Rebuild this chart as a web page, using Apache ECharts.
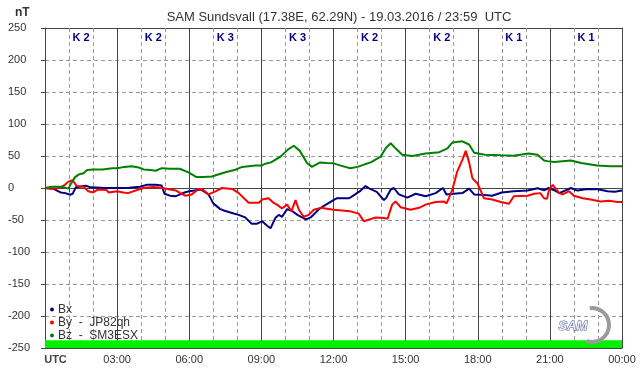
<!DOCTYPE html>
<html><head><meta charset="utf-8">
<script src="https://cdn.jsdelivr.net/npm/echarts@6/dist/echarts.min.js"></script>
<style>html,body{margin:0;padding:0;background:#fff}#c{width:642px;height:376px}</style>
</head><body><div id="c"></div>
<script>
// K index per 3-hour interval
const kIndex = ['K 2','K 2','K 3','K 3','K 2','K 2','K 1','K 1'];
// hour tick labels (every 3 h)
const hourLabels = {0:'UTC',3:'03:00',6:'06:00',9:'09:00',12:'12:00',15:'15:00',18:'18:00',21:'21:00',24:'00:00'};
// series names
const names = ['Bx', 'By  -  JP82qh', 'Bz  -  SM3ESX'];
// [hour UTC, nT]
const bx = [[0,0],[0.35,-1],[0.5,-4],[0.65,-7],[0.85,-8],[1.04,-10.5],[1.15,-9],[1.28,1],[1.7,3.5],[1.9,1],[2.5,0],[3.0,0],[3.5,0.5],[3.95,2],[4.25,5],[4.6,5],[4.85,4],[4.97,-9],[5.2,-12],[5.42,-13],[5.62,-10],[5.8,-7],[6.0,-5],[6.5,-2.5],[6.8,-10],[7.0,-24],[7.29,-33],[7.5,-36],[7.78,-39],[8.05,-42],[8.33,-46],[8.6,-56],[8.8,-56],[9.03,-52],[9.24,-59],[9.38,-63],[9.58,-47],[9.72,-42],[9.86,-45],[10.07,-33],[10.28,-36],[10.5,-42],[10.85,-49],[11.05,-46],[11.4,-33],[11.6,-28],[12.0,-19],[12.15,-16],[12.65,-16],[12.9,-10],[13.1,-5],[13.33,3],[13.5,-1],[13.8,-6],[14.1,-19],[14.2,-15],[14.38,-2.5],[14.51,0],[14.72,-10],[15.07,-15],[15.42,-9],[15.83,-13],[16.25,-8],[16.55,0],[16.7,-10],[17.0,-9],[17.36,-8],[17.64,-1],[17.85,-10],[18.3,-11],[18.6,-12],[19.0,-7],[19.5,-5],[20.07,-4],[20.49,-0.5],[20.76,-3.5],[20.95,0],[21.18,-3.5],[21.39,-8],[21.88,0],[22.15,-4],[22.57,-1.5],[23.0,-2],[23.4,-5],[23.7,-6],[24,-4]];
const by = [[0,0],[0.3,-1],[0.6,0],[0.83,5],[0.97,10],[1.15,12],[1.32,3],[1.6,2],[1.8,-5],[2.0,-7],[2.2,-2.5],[2.55,-3],[2.65,-7],[3.0,-5],[3.25,-7],[3.45,-8],[3.8,-3.5],[4.1,0],[4.5,1.5],[4.9,0],[5.2,-2.5],[5.45,-4],[5.63,-8],[5.83,-12],[6.1,-10],[6.39,-1.5],[6.55,-2],[6.8,-10],[7.05,-6],[7.36,0],[7.78,-1.5],[8.06,-8],[8.33,-18],[8.47,-23],[8.9,-23],[9.03,-18],[9.3,-16],[9.5,-23],[9.65,-26],[9.86,-32],[10.07,-26],[10.25,-36],[10.42,-19],[10.56,-34],[10.76,-45],[10.97,-42],[11.18,-34],[11.46,-31],[12.0,-34],[12.7,-36.5],[13.05,-40],[13.26,-52],[13.5,-49],[13.75,-46],[14.1,-47],[14.25,-48],[14.44,-26],[14.58,-21],[14.79,-30],[15.2,-34],[15.56,-31],[15.83,-26],[16.25,-22],[16.6,-21],[16.7,-24],[16.8,-16],[16.94,-3],[17.15,26],[17.36,44],[17.5,58],[17.64,40],[17.78,15],[17.99,7],[18.13,-5],[18.26,-16],[18.6,-18],[18.96,-22],[19.3,-24.5],[19.5,-13],[20.07,-12],[20.35,-9],[20.6,-8],[20.76,-16],[20.88,-17],[20.97,-2.5],[21.12,5],[21.39,-8],[21.53,-10],[21.8,-5],[22.0,-12],[22.36,-16],[22.7,-18],[23.1,-21],[23.45,-20],[23.82,-22],[24,-22]];
const bz = [[0,0],[0.3,2],[0.7,2],[0.97,-1],[1.1,8],[1.25,17],[1.4,21],[1.6,23],[1.75,28],[2.0,29],[2.4,29],[2.8,31],[3.0,31],[3.3,33],[3.6,34],[3.9,32],[4.1,29],[4.4,28],[4.6,27],[4.86,31],[5.2,30],[5.6,30],[5.97,24.5],[6.3,17],[6.6,17],[6.94,18],[7.5,24.5],[7.92,28.5],[8.2,33],[8.75,35],[9.0,35],[9.17,38],[9.4,40],[9.8,49],[10.1,60],[10.35,66],[10.6,58],[10.9,39],[11.1,33],[11.45,40],[11.7,39],[12.0,38.5],[12.3,35],[12.7,31],[13.0,33],[13.3,37],[13.55,40],[13.96,49],[14.17,62],[14.38,70],[14.58,62],[14.86,52],[15.28,50],[15.83,54],[16.4,56],[16.74,62],[16.94,71],[17.36,73],[17.64,68],[17.85,55],[18.3,52],[18.96,51],[19.5,50.5],[20.1,54],[20.49,52],[20.76,43],[20.9,42],[21.18,40.5],[21.875,43],[22.3,39],[22.96,35],[23.5,34],[24,34]];

const FONT = '"Liberation Sans", Arial, sans-serif';
const chart = echarts.init(document.getElementById('c'), null, {renderer:'canvas'});
function mk(name, data, color, extra){
  return Object.assign({name, type:'line', data, showSymbol:false, symbol:'circle', symbolSize:4,
    lineStyle:{color, width:2}, itemStyle:{color}, animation:false, z:3}, extra||{});
}
chart.setOption({
  animation:false,
  backgroundColor:'#fff',
  title:{text:'SAM Sundsvall (17.38E, 62.29N) - 19.03.2016 / 23:59  UTC', left:334, textAlign:'center', top:6,
    textStyle:{fontFamily:FONT, fontSize:13, fontWeight:'normal', color:'#333'}},
  graphic:[
    {type:'text', left:15, top:7, style:{text:'nT', font:'bold 12px '+FONT, fill:'#333'}},
    {type:'arc', shape:{cx:592, cy:325, r:17, startAngle:-1.7, endAngle:1.9}, style:{stroke:'#9a9a9a', lineWidth:4, fill:null}, z:10},
    {type:'text', left:558, top:319, style:{text:'SAM', font:'italic bold 13px '+FONT, fill:'#e8ecf4', stroke:'#4a5a8a', lineWidth:1}, z:11}
  ],
  legend:{orient:'vertical', left:45, top:298, icon:'circle', itemWidth:4, itemHeight:4, itemGap:0,
    textStyle:{fontFamily:FONT, fontSize:12, color:'#333', lineHeight:13, padding:[0,0,0,-1]},
    data:names},
  grid:{left:45, right:20, top:28, bottom:28, show:false},
  xAxis:[
    {type:'value', min:0, max:24, interval:1, position:'bottom',
      axisLine:{show:true, lineStyle:{color:'#444', width:1}},
      axisTick:{show:true, length:4, lineStyle:{color:'#444'}},
      axisLabel:{margin:6, fontFamily:FONT, fontSize:11, color:'#333',
        formatter:v=>{ if(v===0) return '{u|UTC}'; return hourLabels[v]||''; },
        rich:{u:{fontFamily:FONT, fontSize:11, fontWeight:'bold', color:'#444', padding:[0,0,0,21]}}},
      splitLine:{show:true, lineStyle:{color:['transparent','#999','#999'], type:[4,3], width:1}}},
    {type:'category', data:kIndex, position:'top', boundaryGap:true,
      axisLine:{show:true, lineStyle:{color:'#444', width:1}},
      axisTick:{show:false},
      axisLabel:{inside:true, margin:4, fontFamily:FONT, fontSize:11, fontWeight:'bold', color:'#000080', interval:0},
      splitLine:{show:true, interval:0, lineStyle:{color:'#444', width:1}}}
  ],
  yAxis:[
    {type:'value', min:-250, max:250, interval:50,
      axisLine:{show:true, lineStyle:{color:'#444', width:1}},
      axisTick:{show:true, length:4, lineStyle:{color:'#444'}},
      axisLabel:{align:'left', margin:37, fontFamily:FONT, fontSize:11, color:'#333'},
      splitLine:{show:true, lineStyle:{color:'#999', type:[4,3], width:1}}},
    {type:'value', min:-250, max:250, interval:250, position:'right',
      axisLine:{show:true, lineStyle:{color:'#444', width:1}},
      axisTick:{show:false}, axisLabel:{show:false},
      splitLine:{show:true, lineStyle:{color:'#444', width:1}}}
  ],
  series:[
    mk(names[0], bx, '#000080'),
    mk(names[1], by, '#ff0000'),
    mk(names[2], bz, '#008000', {markArea:{silent:true, itemStyle:{color:'#00f000', opacity:1},
      data:[[{yAxis:-250},{yAxis:-238}]]}})
  ]
});
</script>
</body></html>
